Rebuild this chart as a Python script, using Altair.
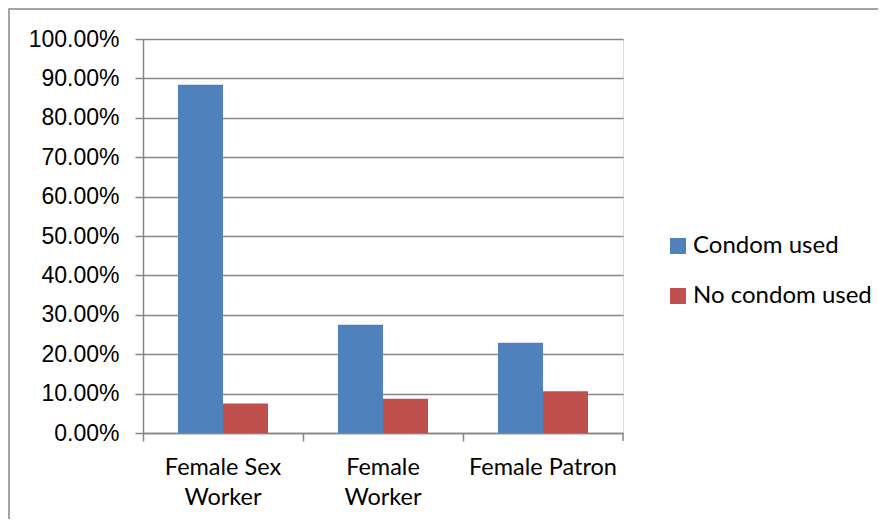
import altair as alt
import pandas as pd

categories = ["Female Sex Worker", "Female Worker", "Female Patron"]
series = ["Condom used", "No condom used"]
condom_used = [0.884, 0.275, 0.229]
no_condom_used = [0.075, 0.087, 0.106]
colors = ["#4F81BD", "#C0504D"]

rows = []
for c, a, b in zip(categories, condom_used, no_condom_used):
    rows.append({"cat": c, "series": series[0], "value": a})
    rows.append({"cat": c, "series": series[1], "value": b})
df = pd.DataFrame(rows)

W, H = 480, 394
GRID = "#868686"

label_expr = ("datum.label == 'Female Sex Worker' ? ['Female Sex', 'Worker'] : "
              "datum.label == 'Female Worker' ? ['Female', 'Worker'] : datum.label")

bars = alt.Chart(df).mark_bar().encode(
    x=alt.X("cat:N", sort=categories, title=None,
            scale=alt.Scale(paddingInner=0, paddingOuter=0),
            axis=alt.Axis(labelAngle=0, labelExpr=label_expr, bandPosition=0,
                          labelFont="Lato", labelFontSize=23.5, labelColor="#000000",
                          labelLineHeight=30, labelPadding=14, labelBaseline="top",
                          tickSize=8, tickColor=GRID, tickWidth=1.5,
                          domainColor=GRID, domainWidth=1.5, grid=False)),
    xOffset=alt.XOffset("series:N", sort=series,
                        scale=alt.Scale(paddingOuter=0.778, paddingInner=0)),
    y=alt.Y("value:Q", title=None,
            scale=alt.Scale(domain=[0, 1], nice=False),
            axis=alt.Axis(format=".2%", values=[i / 10 for i in range(11)],
                          labelFont="Liberation Sans", labelFontSize=23,
                          labelColor="#000000", labelPadding=16,
                          tickSize=8, tickColor=GRID, tickWidth=1.5,
                          domainColor=GRID, domainWidth=1.5,
                          grid=True, gridColor=GRID, gridWidth=1.5)),
    color=alt.Color("series:N", sort=series,
                    scale=alt.Scale(domain=series, range=colors),
                    legend=alt.Legend(title=None, orient="none", legendX=523, legendY=195,
                                      symbolType="square", symbolSize=256,
                                      symbolStrokeWidth=0, labelFont="Lato",
                                      labelFontSize=24, labelColor="#000000",
                                      labelLimit=0,
                                      labelOffset=3, rowPadding=26, padding=0)),
)

right_tick = alt.Chart(alt.Data(values=[{}])).mark_rule(color=GRID, strokeWidth=1.5).encode(
    x=alt.value(W), y=alt.value(H), y2=alt.value(H + 8))

border = alt.Chart(alt.Data(values=[{}])).mark_rect(
    fill=None, stroke="#868686", strokeWidth=1.5).encode(
    x=alt.value(-134), x2=alt.value(W + 270),
    y=alt.value(-30), y2=alt.value(H + 100))

chart = alt.layer(bars, right_tick, border).properties(
    width=W, height=H,
    autosize=alt.AutoSizeParams(type="none"),
    padding={"left": 135, "top": 31, "right": 255, "bottom": 86},
).configure_view(stroke=None).configure(background="white")

chart.save("out.html", embed_options={"renderer": "svg", "actions": False})
